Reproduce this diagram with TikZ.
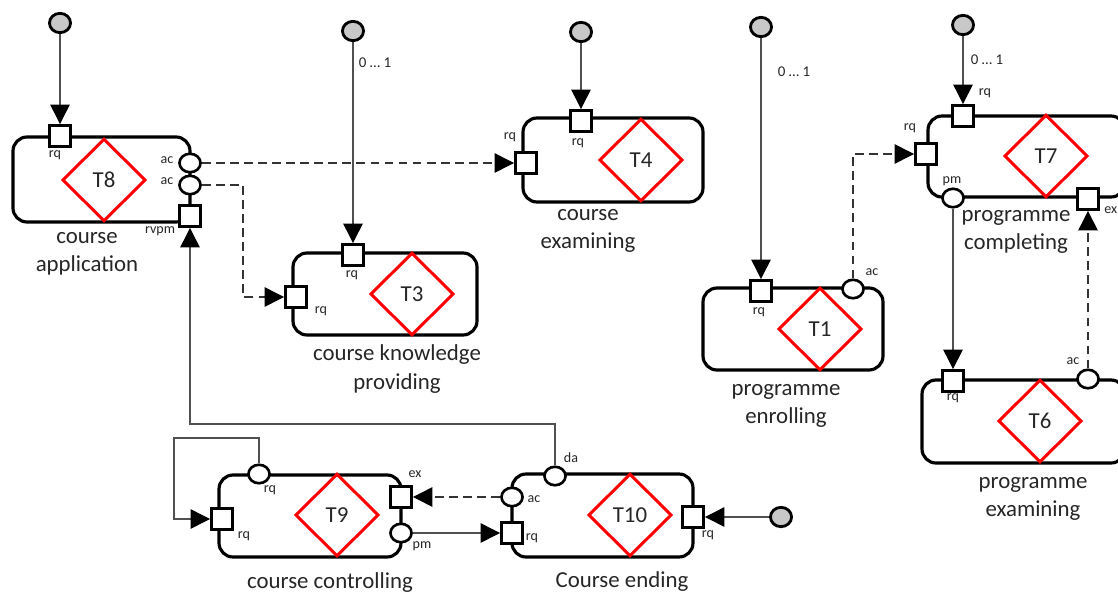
\documentclass[tikz,border=0pt]{standalone}
\usepackage{fontspec}
\setmainfont{Carlito}
\usetikzlibrary{arrows.meta,shapes.geometric,fit}
\definecolor{startgray}{HTML}{C8C8C8}
\definecolor{wire}{HTML}{505050}
\definecolor{txt}{HTML}{262626}
\begin{document}
\begin{tikzpicture}[x=0.02cm,y=-0.02cm,
  proc/.style={draw, line width=1.8pt, rounded corners=8pt, inner sep=0pt, outer sep=0pt},
  act/.style={diamond, draw=red, line width=1.7pt, minimum width=47.5pt, minimum height=47pt,
              inner sep=0pt, text=txt, font=\fontsize{13}{14}\selectfont},
  psq/.style={rectangle, draw, fill=white, line width=1.6pt, minimum size=12pt, inner sep=0pt},
  pcirc/.style={ellipse, draw, fill=white, line width=1.5pt, minimum width=12pt, minimum height=10.5pt, inner sep=0pt},
  start/.style={ellipse, draw, fill=startgray, line width=1.6pt, minimum width=12pt, minimum height=11pt, inner sep=0pt},
  conn/.style={draw=wire, line width=0.7pt, -{Triangle[length=11pt,width=11pt,color=black]}},
  dconn/.style={conn, draw=black!80, dash pattern=on 5pt off 3pt},
  plab/.style={font=\fontsize{8}{9}\selectfont, inner sep=0pt, text=txt},
  mult/.style={font=\fontsize{8.5}{9}\selectfont, inner sep=0pt, text=txt},
  tlab/.style={font=\fontsize{13}{16}\selectfont, inner sep=0pt, align=center, text=txt}]
\useasboundingbox (0,0) rectangle (1118,595);

% transaction boxes
\node[proc, fit={(13,137) (190,222)}] (B8) {};
\node[proc, fit={(293,253) (477,335)}] (B3) {};
\node[proc, fit={(523,118) (703,202)}] (B4) {};
\node[proc, fit={(703,288) (883,370)}] (B1) {};
\node[proc, fit={(928,116) (1125,197)}] (B7) {};
\node[proc, fit={(922,380) (1125,463)}] (B6) {};
\node[proc, fit={(219,475) (401,557)}] (B9) {};
\node[proc, fit={(512,474) (693,557)}] (B10) {};

% transaction kinds
\node[act] (D8) at (104,180) {T8};
\node[act] (D3) at (412,294) {T3};
\node[act] (D4) at (641,160) {T4};
\node[act] (D1) at (820,329) {T1};
\node[act] (D7) at (1046,156) {T7};
\node[act] (D6) at (1040,421) {T6};
\node[act] (D9) at (337,515) {T9};
\node[act] (D10) at (630,515) {T10};

% ports
\node[psq] (q8t) at (60,136) {};
\node[pcirc] (a8a) at (190,163) {};
\node[pcirc] (a8b) at (190,185) {};
\node[psq] (q8r) at (190,216) {};
\node[psq] (q3t) at (353,255) {};
\node[psq] (q3l) at (296,297) {};
\node[psq] (q4t) at (581,121) {};
\node[psq] (q4l) at (526,163) {};
\node[psq] (q1t) at (761,291) {};
\node[pcirc] (a1) at (853,289) {};
\node[psq] (q7t) at (963,116) {};
\node[psq] (q7l) at (926,154) {};
\node[pcirc] (p7) at (953,198) {};
\node[psq] (e7) at (1088,199) {};
\node[psq] (q6t) at (953,381) {};
\node[pcirc] (a6) at (1088,379) {};
\node[pcirc] (c9) at (259,474) {};
\node[psq] (q9l) at (222,519) {};
\node[psq] (e9) at (401,497) {};
\node[pcirc] (p9) at (401,533) {};
\node[pcirc] (d10) at (555,476) {};
\node[pcirc] (a10) at (512,497) {};
\node[psq] (q10l) at (512,533) {};
\node[psq] (q10r) at (693,517) {};

% initiators
\node[start] (s8) at (60,23) {};
\node[start] (s3) at (353,31) {};
\node[start] (s4) at (581,32) {};
\node[start] (s1) at (761,27) {};
\node[start] (s7) at (963,25) {};
\node[start] (s10) at (781,517) {};

% bend points
\coordinate (k1) at (243,185);
\coordinate (k2) at (555,424);
\coordinate (k3) at (259,438);
\coordinate (k4) at (174,438);

% connectors
\draw[conn] (s8) -- (q8t);
\draw[conn] (s3) -- (q3t);
\draw[conn] (s4) -- (q4t);
\draw[conn] (s1) -- (q1t);
\draw[conn] (s7) -- (q7t);
\draw[conn] (s10) -- (q10r);
\draw[dconn] (a8a) -- (q4l);
\draw[dconn] (a8b) -- (k1) |- (q3l);
\draw[dconn] (a1) |- (q7l);
\draw[conn] (p7) -- (q6t);
\draw[dconn] (a6) -- (e7);
\draw[conn] (d10) -- (k2) -| (q8r);
\draw[conn] (c9) -- (k3) -- (k4) |- (q9l);
\draw[dconn] (a10) -- (e9);
\draw[conn] (p9) -- (q10l);

% multiplicities
\node[mult] (m3) at (375,63) {0 … 1};
\node[mult] (m1) at (794,72) {0 … 1};
\node[mult] (m7) at (987,60) {0 … 1};

% port labels
\node[plab] at (55,155) {rq};
\node[plab] at (167,160) {ac};
\node[plab] at (167,181) {ac};
\node[plab] at (160,231) {rvpm};
\node[plab] at (352,275) {rq};
\node[plab] at (321,311) {rq};
\node[plab] at (510,137) {rq};
\node[plab] at (578,143) {rq};
\node[plab] at (872,272) {ac};
\node[plab] at (759,312) {rq};
\node[plab] at (985,93) {rq};
\node[plab] at (910,128) {rq};
\node[plab] at (952,181) {pm};
\node[plab, anchor=west] at (1104,210) {ex};
\node[plab] at (1073,361) {ac};
\node[plab] at (953,398) {rq};
\node[plab] at (270,490) {rq};
\node[plab] at (244,536) {rq};
\node[plab] at (415,474) {ex};
\node[plab] at (422,546) {pm};
\node[plab] at (571,458) {da};
\node[plab] at (534,499) {ac};
\node[plab] at (532,538) {rq};
\node[plab] at (708,535) {rq};

% transaction names
\node[tlab] (n8) at (87,254) {course\\application};
\node[tlab] (n3) at (397,369) {course knowledge\\providing};
\node[tlab] (n4) at (588,231) {course\\examining};
\node[tlab] (n1) at (786,406) {programme\\enrolling};
\node[tlab] (n7) at (1016,232) {programme\\completing};
\node[tlab] (n6) at (1033,499) {programme\\examining};
\node[tlab] (n9) at (330,583) {course controlling};
\node[tlab] (n10) at (622,582) {Course ending};
\end{tikzpicture}
\end{document}
